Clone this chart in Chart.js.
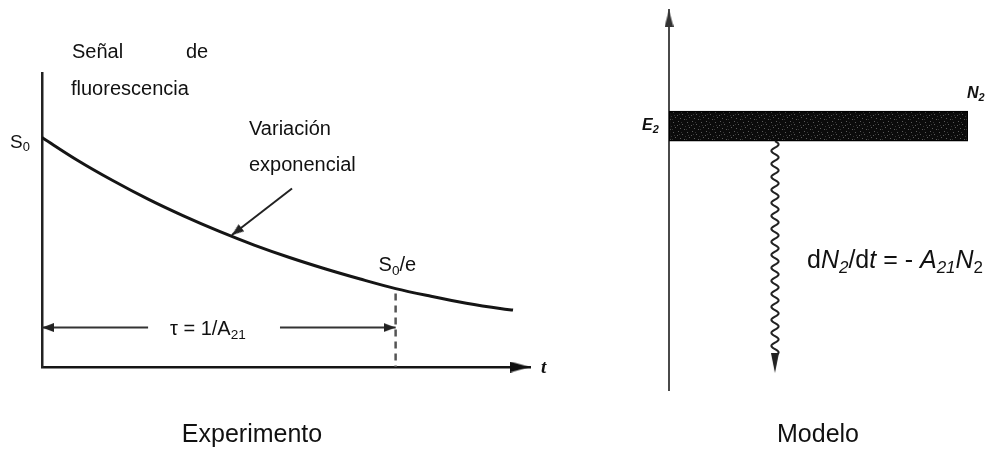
<!DOCTYPE html>
<html lang="es">
<head>
<meta charset="utf-8">
<title>Fluorescencia: experimento y modelo</title>
<script src="https://cdn.jsdelivr.net/npm/chart.js@4.4.1/dist/chart.umd.min.js"></script>
<style>
    html, body { margin: 0; padding: 0; background: #fff; width: 998px; height: 452px; overflow: hidden; }
    canvas { position: absolute; top: 0; }
    .caption {
        position: absolute;
        top: 421px;
        font-family: "Liberation Sans", Arial, sans-serif;
        font-size: 25px;
        line-height: 1;
        color: #111;
        white-space: nowrap;
        transform: translateX(-50%);
    }
</style>
</head>
<body>
<canvas id="decayChart" width="560" height="452" style="left:0"></canvas>
<canvas id="levelChart" width="438" height="452" style="left:560px"></canvas>
<div class="caption" style="left:252px">Experimento</div>
<div class="caption" style="left:818px">Modelo</div>

<script>
// Decay curve: time in units of tau, signal relative to S0
const decayTime = [0, 0.1, 0.2, 0.3, 0.4, 0.5, 0.6, 0.7, 0.8, 0.9, 1.0, 1.1, 1.2, 1.3, 1.332];
const decaySignal = [1.0, 0.905, 0.82, 0.742, 0.672, 0.608, 0.55, 0.498, 0.451, 0.408, 0.368, 0.336, 0.307, 0.284, 0.278];

// Axis ranges of the decay plot
const timeRange = [0, 1.38];
const signalRange = [0.04, 1.27];

// tau = 1/A21 marker
const tauValue = 1.0;
const tauArrowLevel = 0.205;
const tauLeftSegment = [0, 0.30];
const tauRightSegment = [0.673, 1.0];

// pointer to the curve ("Variación exponencial")
const pointerTail = [0.707, 0.787];
const pointerTip = [0.537, 0.592];

// Energy level model
const energyRange = [0, 1.44];
const levelE2 = 1.0;
const levelSpan = [0, 1];
const decayPosition = 0.3545;
const decayEnd = 0.064;

const FONT = '"Liberation Sans", Arial, sans-serif';
const BAND_THICKNESS = 30;

function makeArrowHead(width, length, color) {
    // tip sits at the centre of the image so the point lands on the tip
    const c = document.createElement('canvas');
    c.width = width;
    c.height = length * 2;
    const g = c.getContext('2d');
    g.fillStyle = color;
    g.beginPath();
    g.moveTo(width / 2, length);
    g.lineTo(width, length * 2);
    g.lineTo(0, length * 2);
    g.closePath();
    g.fill();
    return c;
}

function makeBandPattern() {
    const c = document.createElement('canvas');
    c.width = 14;
    c.height = 10;
    const g = c.getContext('2d');
    g.fillStyle = '#0b0b0b';
    g.fillRect(0, 0, 14, 10);
    g.fillStyle = '#5a5a5a';
    [[1, 2], [6, 1], [10, 4], [3, 7], [8, 8], [12, 9], [5, 5]].forEach(([x, y]) => g.fillRect(x, y, 1, 1));
    g.fillStyle = '#333';
    [[2, 5], [9, 2], [13, 6], [7, 4], [0, 9]].forEach(([x, y]) => g.fillRect(x, y, 1, 1));
    return g.createPattern(c, 'repeat');
}

// text with italic parts and subscripts, flags: 'i' italic, 's' subscript, 'b' bold
function drawRich(ctx, x, y, parts, size, family) {
    let cx = x;
    parts.forEach(([txt, flags = '']) => {
        const sub = flags.includes('s');
        const fs = sub ? size * 0.68 : size;
        ctx.font = (flags.includes('i') ? 'italic ' : '') + (flags.includes('b') ? 'bold ' : '') +
            fs.toFixed(1) + 'px ' + (family || FONT);
        ctx.fillText(txt, cx, sub ? y + size * 0.2 : y);
        cx += ctx.measureText(txt).width;
    });
    return cx - x;
}

const arrowAxis = makeArrowHead(11, 20, '#111');
const arrowSmall = makeArrowHead(9, 12, '#222');
const arrowUp = makeArrowHead(9, 17, '#333');
const arrowWave = makeArrowHead(8, 20, '#222');

function flatScale(min, max, borderColor, borderWidth, horizontal) {
    return {
        type: 'linear',
        min: min,
        max: max,
        offset: false,
        grid: { display: false, drawTicks: false, offset: false },
        ticks: { display: false },
        border: { display: true, color: borderColor, width: borderWidth },
        afterFit: scale => {
            if (horizontal) scale.height = 0; else scale.width = 0;
        }
    };
}

const decayLabels = {
    id: 'decayLabels',
    afterDatasetsDraw(chart) {
        const ctx = chart.ctx;
        const x = chart.scales.x;
        const y = chart.scales.y;
        ctx.save();
        ctx.fillStyle = '#111';
        ctx.textBaseline = 'alphabetic';

        drawRich(ctx, 72, 58, [['Señal']], 20);
        drawRich(ctx, 186, 58, [['de']], 20);
        drawRich(ctx, 71, 95, [['fluorescencia']], 20);

        drawRich(ctx, 10, y.getPixelForValue(decaySignal[0]) + 10, [['S'], ['0', 's']], 19);

        drawRich(ctx, 249, 135, [['Variación']], 20);
        drawRich(ctx, 249, 171, [['exponencial']], 20);

        drawRich(ctx, x.getPixelForValue(tauValue) - 17, 271, [['S'], ['0', 's'], ['/e']], 20);

        drawRich(ctx, 170, y.getPixelForValue(tauArrowLevel) + 7, [['τ = 1/A'], ['21', 's']], 20);

        drawRich(ctx, x.right + 11, chart.chartArea.bottom + 6, [['t', 'ib']], 19, '"Liberation Serif", serif');
        ctx.restore();
    }
};

const levelLabels = {
    id: 'levelLabels',
    afterDatasetsDraw(chart) {
        const ctx = chart.ctx;
        const x = chart.scales.x;
        const y = chart.scales.y;
        const waveX = x.getPixelForValue(decayPosition);
        const waveTop = y.getPixelForValue(levelE2) + BAND_THICKNESS / 2;
        const waveBottom = y.getPixelForValue(decayEnd) - 19;

        // wavy decay line below the level
        ctx.save();
        ctx.strokeStyle = '#222';
        ctx.lineWidth = 2;
        ctx.beginPath();
        for (let py = waveTop; py <= waveBottom; py += 0.5) {
            const px = waveX + 3.6 * Math.sin((py - waveTop) / 13 * 2 * Math.PI);
            if (py === waveTop) ctx.moveTo(px, py); else ctx.lineTo(px, py);
        }
        ctx.stroke();

        ctx.fillStyle = '#111';
        ctx.textBaseline = 'alphabetic';
        drawRich(ctx, 82, y.getPixelForValue(levelE2) + 4, [['E', 'ib'], ['2', 'ibs']], 16);
        drawRich(ctx, x.right - 1, y.getPixelForValue(levelE2) - 28, [['N', 'ib'], ['2', 'ibs']], 16);

        drawRich(ctx, 247, 268, [
            ['d'], ['N', 'i'], ['2', 'is'], ['/d'], ['t', 'i'], [' = - '],
            ['A', 'i'], ['21', 'is'], ['N', 'i'], ['2', 's']
        ], 25);
        ctx.restore();
    }
};

function initializeDecayChart() {
    const curve = decayTime.map((t, i) => ({ x: t, y: decaySignal[i] }));
    const tauIndex = decayTime.indexOf(tauValue);

    new Chart(document.getElementById('decayChart'), {
        type: 'line',
        data: {
            datasets: [
                {
                    data: curve,
                    borderColor: '#151515',
                    borderWidth: 3,
                    pointRadius: 0,
                    cubicInterpolationMode: 'monotone'
                },
                {
                    // dashed drop line at t = tau
                    data: [
                        { x: tauValue, y: decaySignal[tauIndex] - 0.02 },
                        { x: tauValue, y: signalRange[0] }
                    ],
                    borderColor: '#555',
                    borderWidth: 2.5,
                    borderDash: [7, 5],
                    pointRadius: 0
                },
                {
                    data: tauLeftSegment.map(t => ({ x: t, y: tauArrowLevel })),
                    borderColor: '#333',
                    borderWidth: 2,
                    pointStyle: arrowSmall,
                    pointRadius: [3, 0],
                    pointRotation: [-90, 0],
                    clip: false
                },
                {
                    data: tauRightSegment.map(t => ({ x: t, y: tauArrowLevel })),
                    borderColor: '#333',
                    borderWidth: 2,
                    pointStyle: arrowSmall,
                    pointRadius: [0, 3],
                    pointRotation: [0, 90],
                    clip: false
                },
                {
                    data: [pointerTail, pointerTip].map(p => ({ x: p[0], y: p[1] })),
                    borderColor: '#222',
                    borderWidth: 2,
                    pointStyle: arrowSmall,
                    pointRadius: [0, 3],
                    pointRotation: ctx => {
                        if (ctx.dataIndex !== 1) return 0;
                        const sx = ctx.chart.scales.x;
                        const sy = ctx.chart.scales.y;
                        const dx = sx.getPixelForValue(pointerTip[0]) - sx.getPixelForValue(pointerTail[0]);
                        const dy = sy.getPixelForValue(pointerTip[1]) - sy.getPixelForValue(pointerTail[1]);
                        return Math.atan2(dx, -dy) * 180 / Math.PI;
                    },
                    clip: false
                },
                {
                    // arrow head of the time axis
                    data: [{ x: timeRange[1], y: signalRange[0] }],
                    showLine: false,
                    pointStyle: arrowAxis,
                    pointRadius: 3,
                    pointRotation: 90,
                    clip: false
                }
            ]
        },
        options: {
            responsive: false,
            animation: false,
            events: [],
            layout: { padding: { left: 42, top: 73, right: 30, bottom: 85 } },
            plugins: { legend: { display: false }, tooltip: { enabled: false } },
            scales: {
                x: flatScale(timeRange[0], timeRange[1], '#151515', 2.5, true),
                y: flatScale(signalRange[0], signalRange[1], '#222', 2.5, false)
            }
        },
        plugins: [decayLabels]
    });
}

function initializeLevelChart() {
    new Chart(document.getElementById('levelChart'), {
        type: 'bar',
        data: {
            datasets: [
                {
                    type: 'bar',
                    indexAxis: 'y',
                    data: [{ y: levelE2, x: levelSpan }],
                    backgroundColor: makeBandPattern(),
                    borderColor: '#000',
                    borderWidth: 1.5,
                    borderSkipped: false,
                    barThickness: BAND_THICKNESS
                },
                {
                    type: 'scatter',
                    data: [
                        { x: 0, y: energyRange[1] },
                        { x: decayPosition, y: decayEnd }
                    ],
                    pointStyle: [arrowUp, arrowWave],
                    pointRadius: 3,
                    pointRotation: [0, 180],
                    clip: false
                }
            ]
        },
        options: {
            responsive: false,
            animation: false,
            events: [],
            layout: { padding: { left: 109, top: 10, right: 30, bottom: 62 } },
            plugins: { legend: { display: false }, tooltip: { enabled: false } },
            scales: {
                x: { type: 'linear', min: 0, max: 1, display: false, offset: false },
                y: flatScale(energyRange[0], energyRange[1], '#4a4a4a', 2, false)
            }
        },
        plugins: [levelLabels]
    });
}

document.addEventListener('DOMContentLoaded', function() {
    initializeDecayChart();
    initializeLevelChart();
});
</script>
</body>
</html>
